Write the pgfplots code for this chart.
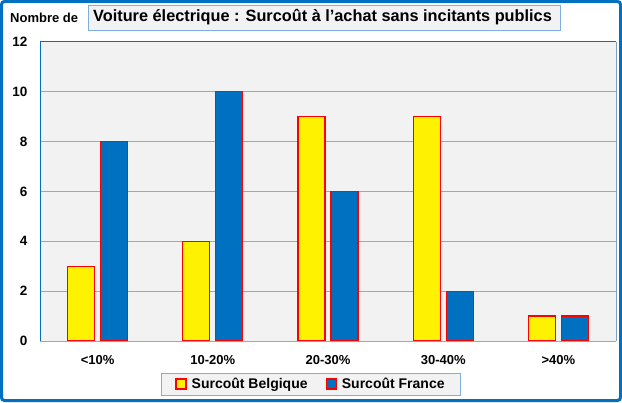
\documentclass[border=0pt]{standalone}
\usepackage{pgfplots}
\pgfplotsset{compat=1.18}
\usepackage{fontspec}
\setmainfont{Liberation Sans}
\definecolor{cblue}{HTML}{0070C0}
\definecolor{lblue}{HTML}{7DB0E0}
\definecolor{pbg}{HTML}{F2F2F2}
\begin{document}
\begin{tikzpicture}[x=1bp,y=1bp]
\useasboundingbox (0,0) rectangle (622,402);
\fill[white] (0,0) rectangle (622,402);
\draw[cblue, line width=3bp, rounded corners=3bp] (1.5,1.5) rectangle (620.5,400.5);
\node[draw=lblue, fill=pbg, line width=0.8bp, minimum width=472bp, minimum height=25bp, inner sep=0pt] at (324,384.5) {};
\node[font=\bfseries\fontsize{16.3bp}{16.3bp}\selectfont, anchor=west, inner sep=0pt] at (93,384.5) {Voiture électrique : Surcoût à l'achat sans incitants publics};
\node[font=\bfseries\fontsize{13bp}{13bp}\selectfont, anchor=west, inner sep=0pt] at (10,384) {Nombre de};
\begin{axis}[
  at={(40bp,61bp)}, anchor=south west,
  width=576bp, height=299bp, scale only axis,
  xmin=-0.5, xmax=4.5, ymin=0, ymax=12,
  ytick={0,2,...,12},
  xtick={0,1,2,3,4},
  xticklabels={<10\%,10-20\%,20-30\%,30-40\%,>40\%},
  xticklabel style={font=\bfseries\fontsize{13bp}{13bp}\selectfont},
  yticklabel style={font=\bfseries\fontsize{13.5bp}{13.5bp}\selectfont},
  /pgf/number format/assume math mode=true,
  major tick length=0pt,
  tick align=outside,
  xticklabel shift=11bp,
  yticklabel shift=9bp,
  axis background/.style={fill=pbg},
  ymajorgrids, grid style={lblue, line width=1bp},
  axis line style={draw=none},
  clip=false,
  ybar, bar width=27bp,
  legend style={at={(0.4705,-0.1438)}, anchor=center, draw=lblue, fill=pbg, line width=0.8bp,
    legend columns=2, font=\bfseries\fontsize{14bp}{14bp}\selectfont,
    /tikz/every even column/.append style={column sep=16bp},
    inner xsep=14bp, inner ysep=3bp},
  legend image code/.code={\draw[#1, line width=1.3bp] (0bp,-5bp) rectangle (10bp,5bp); \path (13bp,0bp);},
]
\addplot[fill=yellow, draw=red, line width=1.3bp, bar shift=-16.5bp] coordinates {(0,3) (1,4) (2,9) (3,9) (4,1)};
\addplot[fill=cblue, draw=red, line width=1.3bp, bar shift=16.5bp] coordinates {(0,8) (1,10) (2,6) (3,2) (4,1)};
\legend{Surcoût Belgique, Surcoût France}
\draw[cblue, line width=1bp] (rel axis cs:0,0) -- (rel axis cs:0,1) -- (rel axis cs:1,1);
\draw[lblue!70!gray, line width=0.8bp] (rel axis cs:1,1) -- (rel axis cs:1,0);
\draw[lblue, line width=1bp] (rel axis cs:0,0) -- (rel axis cs:1,0);
\end{axis}
\end{tikzpicture}
\end{document}
